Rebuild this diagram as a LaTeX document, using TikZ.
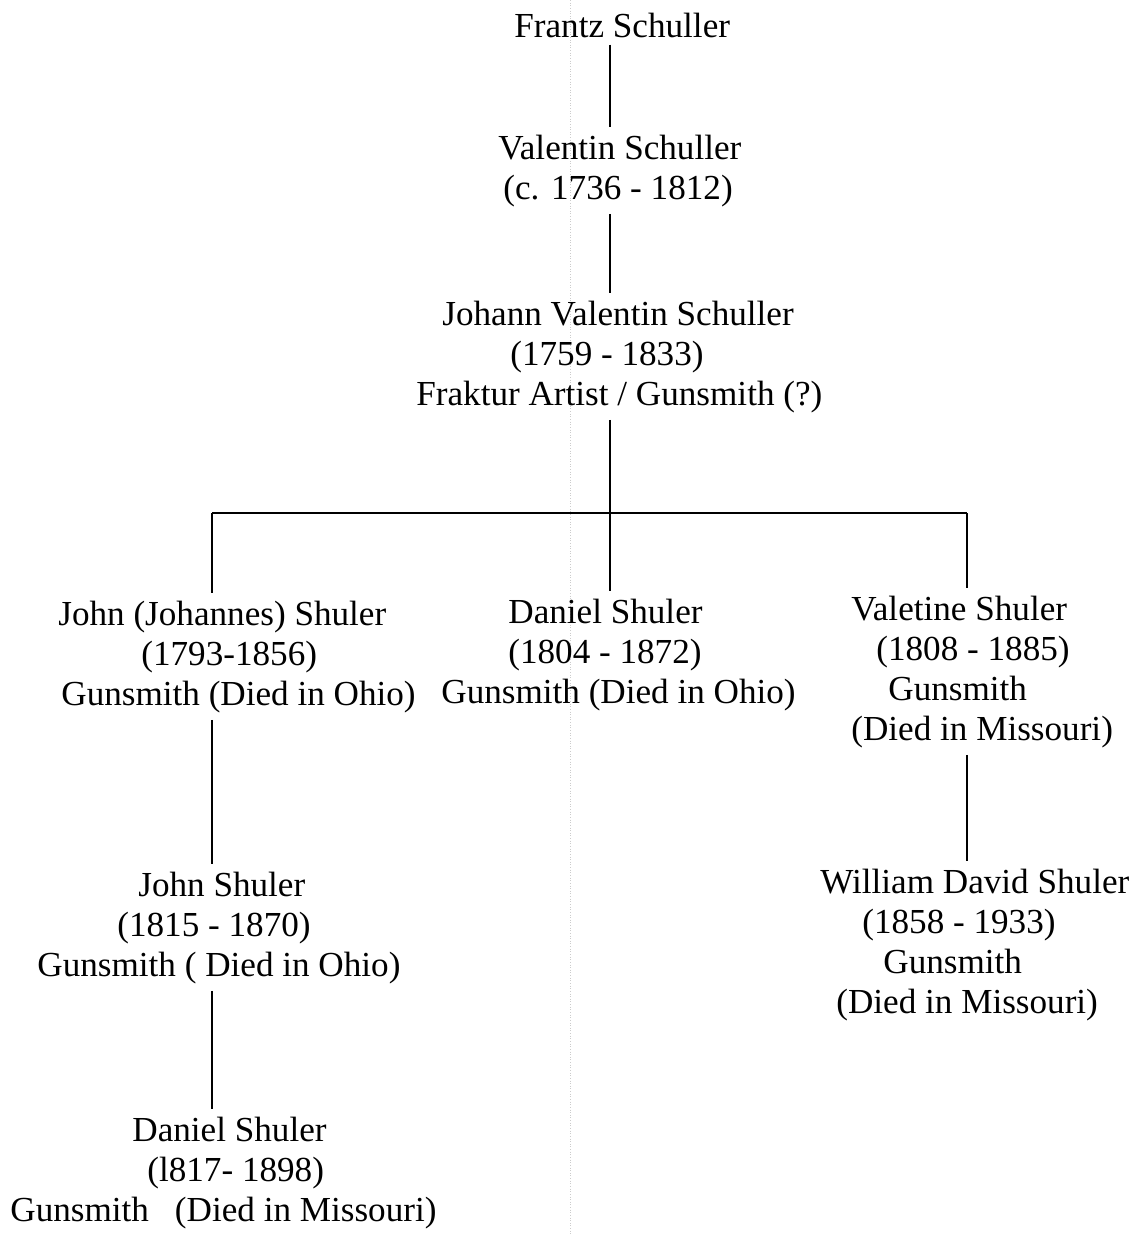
\documentclass[tikz,border=0pt]{standalone}
\usepackage{fontspec}
\setmainfont{Liberation Serif}
\usepackage{tikz}
\usetikzlibrary{calc}

\newdimen\pxu \pxu=0.02cm
\newcommand{\ind}[1]{\hspace*{#1\pxu}}

\tikzset{person/.style={align=left,anchor=base west,inner sep=4pt,
    font=\fontsize{20pt}{22.76pt}\selectfont},
  link/.style={line width=0.9pt}}

\begin{document}
\begin{tikzpicture}[x=0.02cm,y=-0.02cm]
  \useasboundingbox (0,0) rectangle (1134,1234);
  % faint fold mark of the scan
  \draw[gray!40,densely dotted,line width=0.5pt] (570,0) -- (570,1234);

  % base of each node = baseline of its last line
  \node[person] (frantz) at (507,37) {Frantz Schuller};
  \node[person] (valentin) at (491,199) {Valentin Schuller\\ \ind{5}(c. 1736 - 1812)};
  \node[person] (johann) at (409,405)
    {\ind{26}Johann Valentin Schuller\\ \ind{94}(1759 - 1833)\\Fraktur Artist / Gunsmith (?)};

  \node[person] (john) at (51,705)
    {John (Johannes) Shuler\\ \ind{83}(1793-1856)\\ \ind{3}Gunsmith (Died in Ohio)};
  \node[person] (danielO) at (434,703)
    {\ind{67}Daniel Shuler\\ \ind{67}(1804 - 1872)\\Gunsmith (Died in Ohio)};
  \node[person] (valetine) at (844,740)
    {Valetine Shuler\\ \ind{25}(1808 - 1885)\\ \ind{37}Gunsmith\\(Died in Missouri)};

  \node[person] (johnjr) at (30,976)
    {\ind{101}John Shuler\\ \ind{80}(1815 - 1870)\\Gunsmith ( Died in Ohio)};
  \node[person] (william) at (813,1013)
    {William David Shuler\\ \ind{42}(1858 - 1933)\\ \ind{63}Gunsmith\\ \ind{16}(Died in Missouri)};
  \node[person] (danielM) at (3,1221)
    {\ind{122}Daniel Shuler\\ \ind{137}(l817- 1898)\\Gunsmith\hspace{26\pxu}(Died in Missouri)};

  % stems of the tree
  \coordinate (stemL) at (212,513);
  \coordinate (stemC) at (610,513);
  \coordinate (stemR) at (967,513);

  \draw[link] (stemC |- frantz.south) -- (stemC |- valentin.north);
  \draw[link] (stemC |- valentin.south) -- (stemC |- johann.north);
  \draw[link] (stemC |- johann.south) -- (stemC);
  \draw[link] (stemL) -- (stemR);
  \draw[link] (stemL) -- (stemL |- john.north);
  \draw[link] (stemC) -- (stemC |- danielO.north);
  \draw[link] (stemR) -- (stemR |- valetine.north);
  \draw[link] (stemL |- john.south) -- (stemL |- johnjr.north);
  \draw[link] (stemL |- johnjr.south) -- (stemL |- danielM.north);
  \draw[link] (stemR |- valetine.south) -- (stemR |- william.north);
\end{tikzpicture}
\end{document}
